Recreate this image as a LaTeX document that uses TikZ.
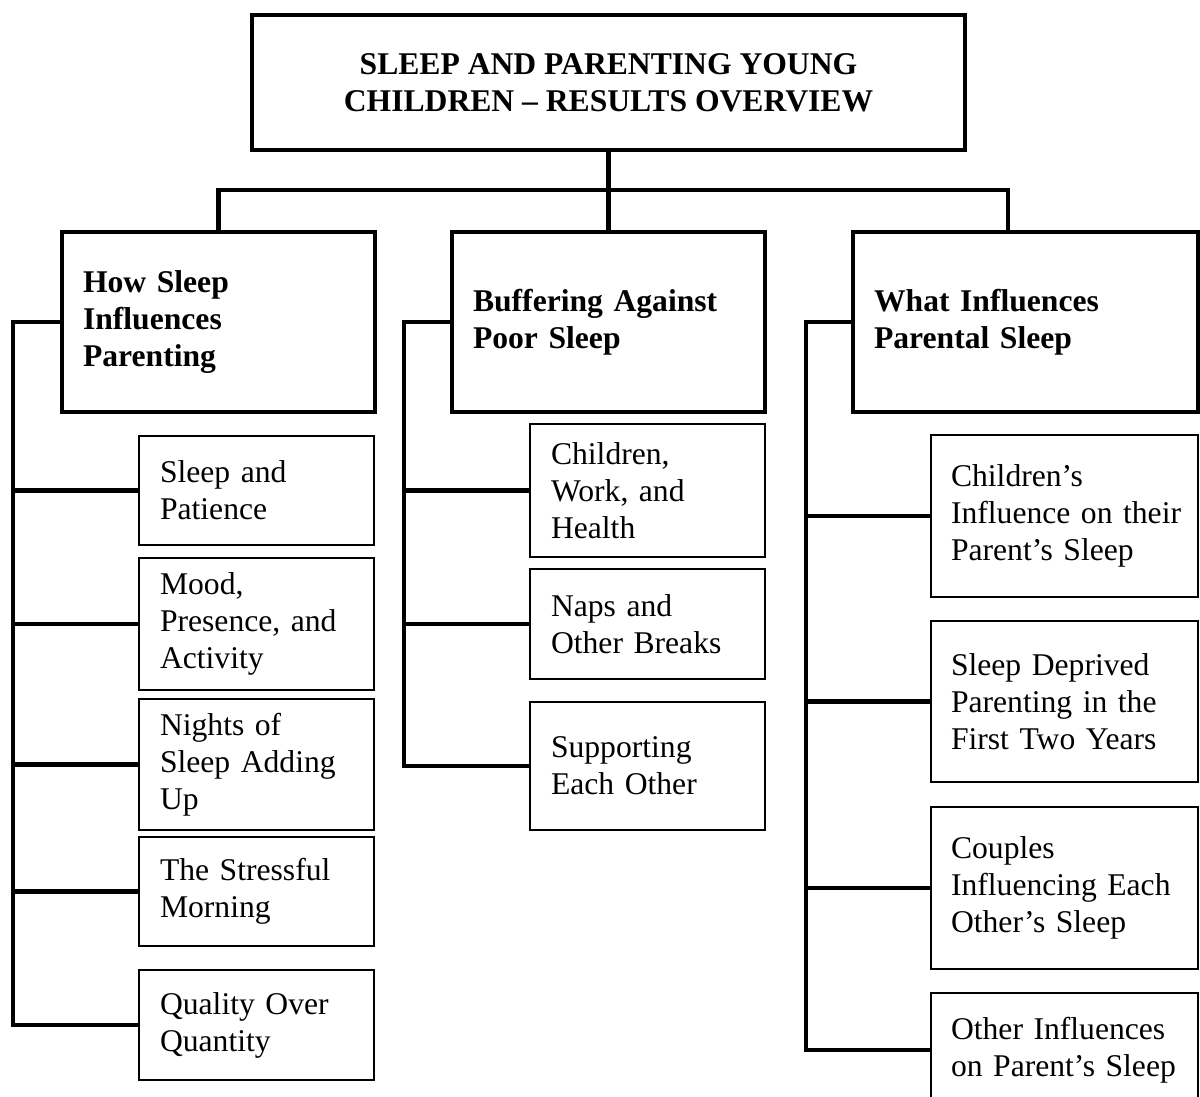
\documentclass[tikz,border=0pt]{standalone}
\usepackage{fontspec}
\setmainfont{Liberation Serif}
\usetikzlibrary{positioning}

\tikzset{
    titlebox/.style={draw, line width=2.3pt, align=center, inner sep=2pt,
                     font=\fontsize{18}{21}\selectfont\bfseries},
    headbox/.style={draw, line width=2.3pt, align=left, inner xsep=0.42cm, inner ysep=2pt,
                    minimum height=3.6cm, font=\fontsize{18}{21}\selectfont\bfseries},
    itembox/.style={draw, line width=1.3pt, align=left, inner xsep=0.42cm, inner ysep=2pt,
                    text width=3.86cm, font=\fontsize{18}{21}\selectfont},
    rightbox/.style={itembox, inner xsep=0.4cm, text width=4.54cm},
    link/.style={line width=2.3pt}
}

\begin{document}
\begin{tikzpicture}[x=0.02cm, y=-0.02cm]
    \useasboundingbox (0,0) rectangle (1200,1097);
    \clip (0,0) rectangle (1200,1097);

    % title
    \node[titlebox, minimum width=14.26cm, minimum height=2.7cm] (title) at (608.5,82.5)
        {SLEEP AND PARENTING YOUNG\\CHILDREN – RESULTS OVERVIEW};

    % three themes
    \node[headbox, text width=5.42cm] (how) at (218.5,322) {How Sleep\\Influences\\Parenting};
    \node[headbox, text width=5.42cm] (buf) at (608.5,322) {Buffering Against\\Poor Sleep};
    \node[headbox, text width=6.06cm] (what) at (1025.5,322) {What Influences\\Parental Sleep};

    % how sleep influences parenting
    \node[itembox, minimum height=2.18cm] (how1) at (256.5,490.5) {Sleep and\\Patience};
    \node[itembox, minimum height=2.64cm] (how2) at (256.5,624) {Mood,\\Presence, and\\Activity};
    \node[itembox, minimum height=2.62cm] (how3) at (256.5,764.5) {Nights of\\Sleep Adding\\Up};
    \node[itembox, minimum height=2.18cm] (how4) at (256.5,891.5) {The Stressful\\Morning};
    \node[itembox, minimum height=2.2cm] (how5) at (256.5,1025) {Quality Over\\Quantity};

    % buffering against poor sleep
    \node[itembox, minimum height=2.66cm] (buf1) at (647.5,490.5) {Children,\\Work, and\\Health};
    \node[itembox, minimum height=2.2cm] (buf2) at (647.5,624) {Naps and\\Other Breaks};
    \node[itembox, minimum height=2.56cm] (buf3) at (647.5,766) {Supporting\\Each Other};

    % what influences parental sleep
    \node[rightbox, minimum height=3.24cm] (what1) at (1064.5,516)
        {Children’s\\\mbox{Influence on their}\\Parent’s Sleep};
    \node[rightbox, minimum height=3.22cm] (what2) at (1064.5,701.5) {Sleep Deprived\\Parenting in the\\First Two Years};
    \node[rightbox, minimum height=3.24cm] (what3) at (1064.5,888) {Couples\\Influencing Each\\Other’s Sleep};
    \node[rightbox, minimum height=2.28cm] (what4) at (1064.5,1050) {Other Influences\\on Parent’s Sleep};

    % top connectors
    \coordinate (bus) at (608,190);
    \coordinate (drop) at (1008,232);
    \draw[link] (title.south) -- (title.south |- bus);
    \draw[link] (how.north) |- (bus) -| (drop);
    \draw[link] (title.south |- bus) -- (buf.north);

    % spines
    \coordinate (spineA) at (13,322);
    \coordinate (spineB) at (404,322);
    \coordinate (spineC) at (806,322);
    \draw[link] (how.west) -- (spineA) |- (how5.west);
    \draw[link] (buf.west) -- (spineB) |- (buf3.west);
    \draw[link] (what.west) -- (spineC) |- (what4.west);
    \foreach \n in {how1,how2,how3,how4}
        \draw[link] (spineA |- \n.west) -- (\n.west);
    \foreach \n in {buf1,buf2}
        \draw[link] (spineB |- \n.west) -- (\n.west);
    \foreach \n in {what1,what2,what3}
        \draw[link] (spineC |- \n.west) -- (\n.west);
\end{tikzpicture}
\end{document}
